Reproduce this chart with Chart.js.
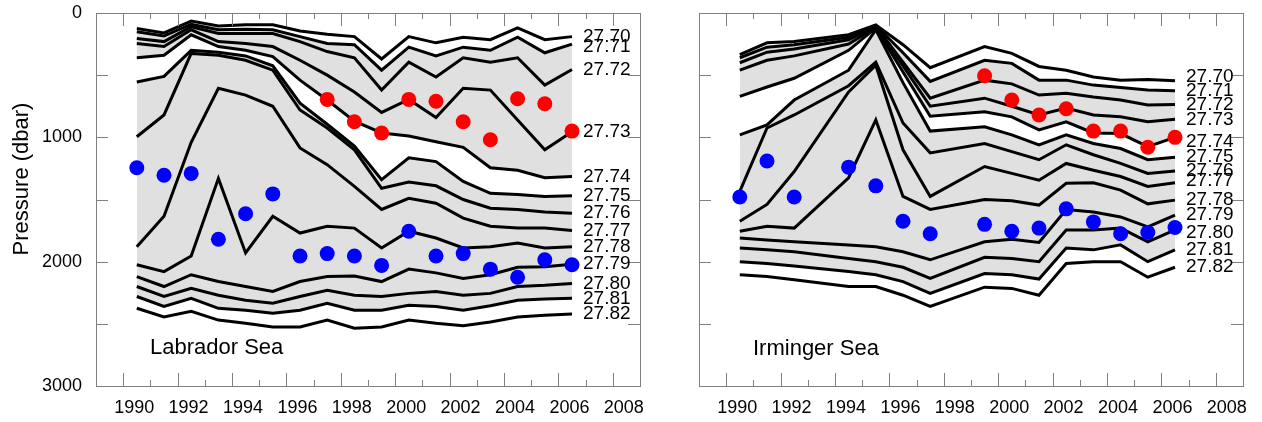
<!DOCTYPE html>
<html>
<head>
<meta charset="utf-8">
<title>Isopycnal depths – Labrador Sea and Irminger Sea</title>
<script src="https://cdn.jsdelivr.net/npm/chart.js@4.4.1/dist/chart.umd.min.js"></script>
<style>
  html, body { margin:0; padding:0; background:#fff; }
  body { width:1262px; height:422px; position:relative; overflow:hidden; }
  canvas { position:absolute; top:0; }
  #lab { left:0; }
  #irm { left:660px; }
</style>
</head>
<body>
<canvas id="lab" width="660" height="422"></canvas>
<canvas id="irm" width="602" height="422"></canvas>
<script>
// ---------------- data (pressure in dbar) ----------------
const levels = ['27.70','27.71','27.72','27.73','27.74','27.75','27.76','27.77','27.78','27.79','27.80','27.81','27.82'];
const bandGray = [false,true,true,true,false,true,true,true,true,true,true,false,false]; // fill below each isopycnal
const yearTicks = [1990,1992,1994,1996,1998,2000,2002,2004,2006,2008];
const pressureTicks = [0,1000,2000,3000];

// Labrador Sea
const labYears = [1990,1991,1992,1993,1994,1995,1996,1997,1998,1999,2000,2001,2002,2003,2004,2005,2006];
const lab2770 = [125,160,65,105,95,95,145,170,190,370,190,240,195,215,120,215,190];
const lab2771 = [150,185,90,135,130,135,190,245,255,460,275,345,275,300,195,320,250];
const lab2772 = [205,230,110,165,165,165,230,310,360,620,395,515,360,395,360,580,455];
const lab2773 = [245,270,135,230,245,270,380,500,635,800,695,840,605,620,860,1100,955];
const lab2774 = [360,340,175,270,300,350,540,700,870,965,990,1035,1080,1245,1265,1325,1315];
const lab2775 = [555,510,300,315,345,425,725,895,1070,1340,1165,1195,1355,1450,1460,1475,1470];
const lab2776 = [995,820,325,340,380,460,780,925,1100,1410,1360,1390,1500,1570,1580,1600,1610];
const lab2777 = [1880,1635,1040,605,660,750,1085,1220,1395,1580,1490,1530,1650,1715,1730,1730,1750];
const lab2778 = [2025,2080,1955,1330,1930,1635,1770,1715,1730,1890,1755,1810,1890,1880,1850,1890,1880];
const lab2779 = [2120,2200,2105,2160,2200,2240,2160,2120,2115,2160,2060,2090,2135,2105,2045,2040,2020];
const lab2780 = [2200,2280,2215,2270,2310,2335,2280,2230,2270,2280,2255,2240,2270,2255,2200,2190,2175];
const lab2781 = [2280,2360,2295,2375,2390,2415,2390,2335,2390,2390,2350,2360,2390,2355,2310,2300,2295];
const lab2782 = [2375,2445,2400,2470,2495,2525,2525,2470,2535,2525,2470,2495,2515,2485,2445,2430,2420];
const labBlue = [1245,1305,1290,1820,1615,1455,1955,1935,1955,2030,1755,1955,1935,2060,2125,1985,2025];
const labRedYears = [1997,1998,1999,2000,2001,2002,2003,2004,2005,2006];
const labRed = [695,875,965,695,710,875,1020,690,730,950];

// Irminger Sea
const irmYears = [1990,1991,1992,1994,1995,1996,1997,1999,2000,2001,2002,2003,2004,2005,2006];
const irm2770 = [335,240,230,175,95,255,440,270,325,430,460,515,540,535,545];
const irm2771 = [360,275,255,195,100,320,550,380,405,540,540,580,600,620,625];
const irm2772 = [400,315,290,215,105,395,685,540,570,660,645,675,700,740,735];
const irm2773 = [460,380,345,250,115,425,750,685,750,820,765,820,835,875,855];
const irm2774 = [670,595,525,300,120,475,830,795,835,940,875,965,970,1075,1000];
const irm2775 = [980,900,700,460,135,560,950,915,980,1060,980,1050,1090,1180,1160];
const irm2776 = [1435,925,820,585,395,885,1125,1050,1115,1180,1060,1140,1210,1290,1270];
const irm2777 = [1675,1540,1275,635,420,1100,1475,1235,1290,1345,1210,1265,1315,1395,1365];
const irm2778 = [1755,1715,1730,1325,860,1475,1580,1500,1510,1545,1370,1365,1425,1535,1505];
const irm2779 = [1810,1825,1840,1865,1880,1920,1985,1840,1820,1845,1580,1600,1640,1720,1625];
const irm2780 = [1890,1905,1920,1975,2000,2045,2135,1965,1975,2000,1745,1745,1730,1840,1745];
const irm2781 = [2000,2015,2035,2080,2105,2160,2255,2095,2105,2140,1890,1905,1865,2000,1905];
const irm2782 = [2105,2120,2145,2200,2200,2270,2360,2205,2215,2270,2015,2000,2000,2125,2045];
const irmBlue = [1480,1190,1480,1240,1390,1675,1775,1700,1755,1730,1575,1680,1775,1765,1725];
const irmRedYears = [1999,2000,2001,2002,2003,2004,2005,2006];
const irmRed = [505,700,820,770,950,950,1080,1000];

const labLines = [lab2770,lab2771,lab2772,lab2773,lab2774,lab2775,lab2776,lab2777,lab2778,lab2779,lab2780,lab2781,lab2782];
const irmLines = [irm2770,irm2771,irm2772,irm2773,irm2774,irm2775,irm2776,irm2777,irm2778,irm2779,irm2780,irm2781,irm2782];

// ---------------- styling ----------------
const FONT = '"Liberation Sans", Arial, Helvetica, sans-serif';
const FRAME = '#808080';
const GRAY = '#e0e0e0';

const toPts = (xs, ys) => xs.map((x, i) => ({x: x, y: ys[i]}));

const decor = {
  id: 'decor',
  afterDraw(chart, args, o) {
    const {ctx, chartArea: a, scales} = chart;
    ctx.save();
    ctx.strokeStyle = FRAME;
    ctx.lineWidth = 1;
    const seg = (x1, y1, x2, y2) => { ctx.beginPath(); ctx.moveTo(x1, y1); ctx.lineTo(x2, y2); ctx.stroke(); };
    // inward pressure ticks on both sides
    for (let v = 500; v < 3000; v += 500) {
      const py = Math.round(scales.y.getPixelForValue(v)) + 0.5;
      seg(a.left, py, a.left + 12, py);
      seg(a.right - 12, py, a.right, py);
    }
    // inward year ticks on top and bottom (year boundaries)
    for (let yr = 1990; yr <= 2008; yr++) {
      const px = Math.round(scales.x.getPixelForValue(yr - 0.5)) + 0.5;
      const long = yr % 2 === 0;
      seg(px, a.top, px, a.top + (long ? 13 : 6));
      seg(px, a.bottom, px, a.bottom - (long ? 13 : 6));
    }
    // isopycnal labels at the end of each line
    ctx.fillStyle = '#000';
    ctx.font = '19px ' + FONT;
    ctx.textAlign = 'left';
    ctx.textBaseline = 'middle';
    levels.forEach((lv, i) => {
      const meta = chart.getDatasetMeta(i + 2);
      const last = meta.data[meta.data.length - 1];
      ctx.fillText(lv, last.x + 11, last.y + (o.nudge[i] || 0));
    });
    // basin name
    ctx.font = '22px ' + FONT;
    ctx.fillText(o.name, a.left + o.nameDx, scales.y.getPixelForValue(o.nameP));
    // y axis title
    if (o.yTitle) {
      ctx.font = '22px ' + FONT;
      ctx.textAlign = 'center';
      ctx.translate(22, 179);
      ctx.rotate(-Math.PI / 2);
      ctx.fillText(o.yTitle, 0, 0);
    }
    ctx.restore();
  }
};

// fixed axis sizes so the plot frame sits exactly where the original has it
const fixBox = (w, h) => s => {
  if (w !== null) s.width = w;
  if (h !== null) s.height = h;
  s.paddingTop = 0; s.paddingBottom = 0; s.paddingLeft = 0; s.paddingRight = 0;
};

function makePanel(id, years, lines, blue, redYears, red, opts) {
  const datasets = [
    {label: 'red', data: toPts(redYears, red), showLine: false, pointRadius: 7.5, pointBorderWidth: 0,
     pointBackgroundColor: '#ff0000', backgroundColor: '#ff0000', fill: false},
    {label: 'blue', data: toPts(years, blue), showLine: false, pointRadius: 7.5, pointBorderWidth: 0,
     pointBackgroundColor: '#0000ff', backgroundColor: '#0000ff', fill: false}
  ];
  lines.forEach((ys, i) => {
    datasets.push({
      label: levels[i], data: toPts(years, ys), borderColor: '#000', borderWidth: 3,
      pointRadius: 0, tension: 0,
      fill: (bandGray[i] && i < lines.length - 1) ? '+1' : false,
      backgroundColor: GRAY
    });
  });
  const border = {display: true, color: FRAME, width: 1};
  return new Chart(document.getElementById(id), {
    type: 'line',
    data: {datasets},
    options: {
      responsive: false, animation: false, devicePixelRatio: 1,
      layout: {padding: 0},
      plugins: {legend: {display: false}, tooltip: {enabled: false},
                filler: {drawTime: 'beforeDatasetsDraw', propagate: false},
                decor: opts},
      scales: {
        x: {type: 'linear', position: 'bottom', min: 1988.5, max: 2008.5,
            afterBuildTicks: s => { s.ticks = yearTicks.map(y => ({value: y - 0.5})); },
            ticks: {autoSkip: false, maxRotation: 0, minRotation: 0, labelOffset: 11, padding: 11,
                    color: '#000', font: {family: FONT, size: 18},
                    callback: v => String(Math.round(v + 0.5))},
            grid: {display: false, drawTicks: false}, border,
            afterFit: fixBox(null, 36)},
        xt: {type: 'linear', position: 'top', min: 1988.5, max: 2008.5,
             ticks: {display: false}, grid: {display: false, drawTicks: false}, border,
             afterFit: fixBox(null, 13)},
        y: {type: 'linear', position: 'left', reverse: true, min: 0, max: 3000,
            afterBuildTicks: s => { s.ticks = pressureTicks.map(v => ({value: v})); },
            ticks: {display: opts.yLabels, padding: 14, color: '#000', font: {family: FONT, size: 18},
                    callback: v => String(v)},
            grid: {display: false, drawTicks: false}, border,
            afterFit: fixBox(opts.leftW, null)},
        yr: {type: 'linear', position: 'right', reverse: true, min: 0, max: 3000,
             ticks: {display: false}, grid: {display: false, drawTicks: false}, border,
             afterFit: fixBox(opts.rightW, null)}
      }
    },
    plugins: [decor]
  });
}

makePanel('lab', labYears, labLines, labBlue, labRedYears, labRed, {
  yLabels: true, leftW: 96, rightW: 20, name: 'Labrador Sea', nameDx: 54, nameP: 2690,
  yTitle: 'Pressure (dbar)', nudge: [0,3,0,0,0,0,0,0,0,0,0,0,0]
});
makePanel('irm', irmYears, irmLines, irmBlue, irmRedYears, irmRed, {
  yLabels: false, leftW: 39, rightW: 19, name: 'Irminger Sea', nameDx: 54, nameP: 2700,
  yTitle: null, nudge: [-4,0,0,0,4,0,0,-2,0,0,3,0,0]
});
</script>
</body>
</html>
